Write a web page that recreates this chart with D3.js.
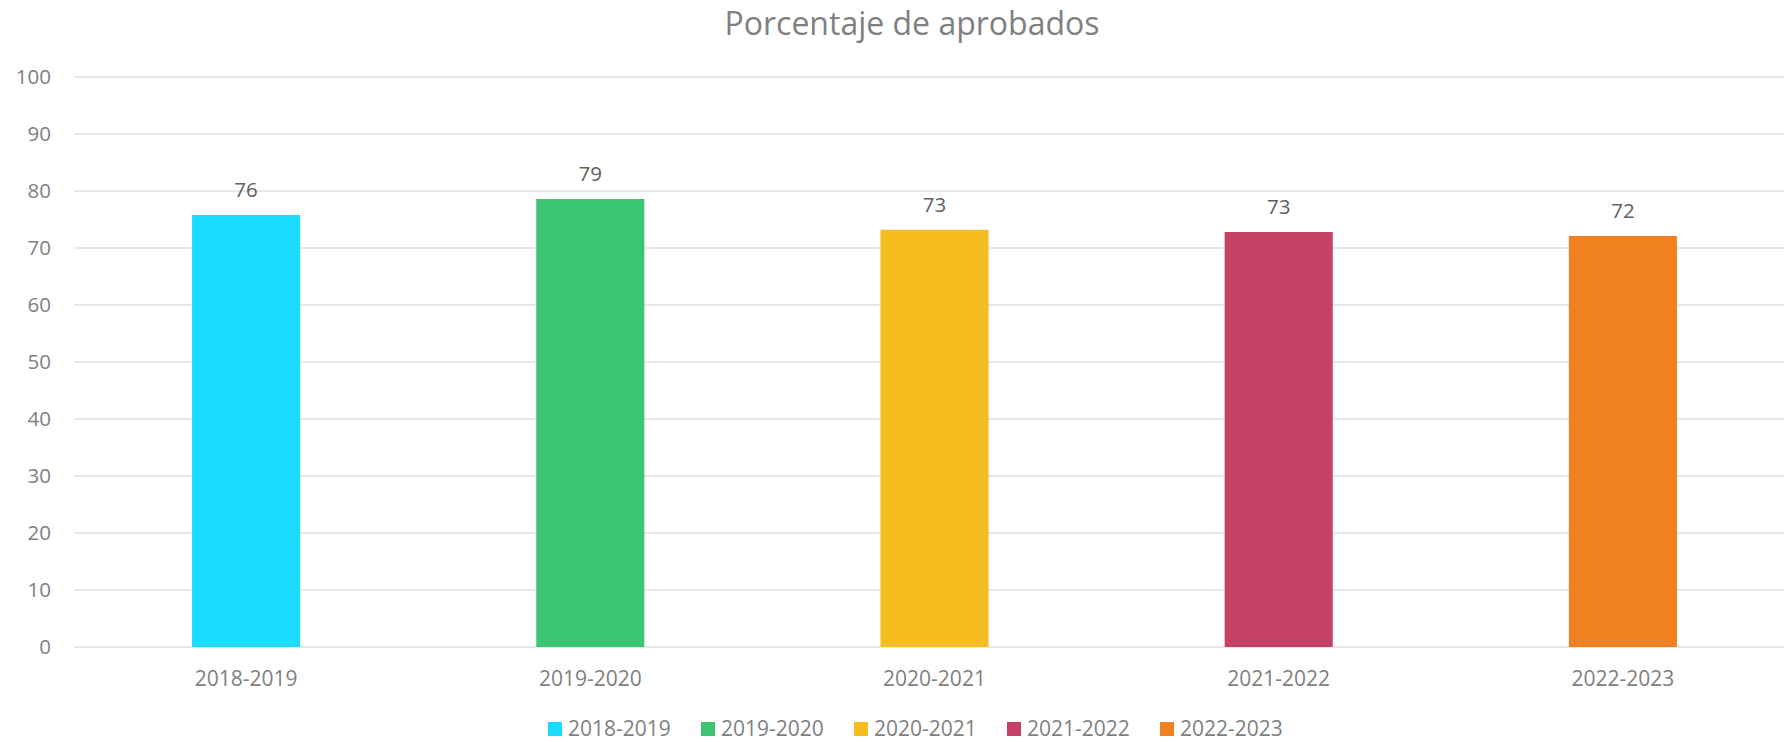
<!DOCTYPE html>
<html>
<head>
<meta charset="utf-8">
<script src="https://cdn.jsdelivr.net/npm/d3@7"></script>
<style>
  html, body { margin: 0; padding: 0; background: #ffffff; }
  svg { display: block; }
  text { font-family: "Open Sans", "Noto Sans", sans-serif; }
</style>
</head>
<body>
<svg id="chart" width="1784" height="742"></svg>
<script>
const title = "Porcentaje de aprobados";
const categories = ["2018-2019", "2019-2020", "2020-2021", "2021-2022", "2022-2023"];
const values = [75.8, 78.6, 73.2, 72.8, 72.1];
const valueLabels = ["76", "79", "73", "73", "72"];
const colors = ["#1bdbff", "#3cc674", "#f5bd1f", "#c74065", "#f08020"];
const yTicks = [0, 10, 20, 30, 40, 50, 60, 70, 80, 90, 100];

const W = 1784, H = 742;
const svg = d3.select("#chart");

const x = d3.scaleBand()
  .domain(categories)
  .range([74, 1795])
  .paddingInner(0.686)
  .paddingOuter(0.343);

const y = d3.scaleLinear().domain([0, 100]).range([647, 77]);

// gridlines
svg.append("g")
  .selectAll("line")
  .data(yTicks)
  .join("line")
  .attr("x1", 74)
  .attr("x2", W)
  .attr("y1", d => y(d))
  .attr("y2", d => y(d))
  .attr("stroke", "#e1e1e1")
  .attr("stroke-width", 1.6);

// y tick labels
svg.append("g")
  .selectAll("text")
  .data(yTicks)
  .join("text")
  .attr("x", 51)
  .attr("y", d => y(d))
  .attr("dy", "0.36em")
  .attr("text-anchor", "end")
  .attr("font-size", 20.5)
  .attr("fill", "#808080")
  .text(d => d);

// bars
svg.append("g")
  .selectAll("rect")
  .data(values)
  .join("rect")
  .attr("x", (d, i) => x(categories[i]))
  .attr("width", x.bandwidth())
  .attr("y", d => y(d))
  .attr("height", d => y(0) - y(d))
  .attr("fill", (d, i) => colors[i]);

// value labels
svg.append("g")
  .selectAll("text")
  .data(values)
  .join("text")
  .attr("x", (d, i) => x(categories[i]) + x.bandwidth() / 2)
  .attr("y", d => y(d) - 18)
  .attr("text-anchor", "middle")
  .attr("font-size", 20.5)
  .attr("fill", "#606060")
  .text((d, i) => valueLabels[i]);

// x labels
svg.append("g")
  .selectAll("text")
  .data(categories)
  .join("text")
  .attr("x", d => x(d) + x.bandwidth() / 2)
  .attr("y", 686)
  .attr("text-anchor", "middle")
  .attr("font-size", 21)
  .attr("fill", "#808080")
  .text(d => d);

// title
svg.append("text")
  .attr("x", 912)
  .attr("y", 35)
  .attr("text-anchor", "middle")
  .attr("font-size", 32)
  .attr("fill", "#808080")
  .text(title);

// legend
const legend = svg.append("g").attr("transform", "translate(548,0)");
const item = legend.selectAll("g")
  .data(categories)
  .join("g")
  .attr("transform", (d, i) => `translate(${i * 153},0)`);
item.append("rect")
  .attr("x", 0)
  .attr("y", 722)
  .attr("width", 14)
  .attr("height", 14)
  .attr("fill", (d, i) => colors[i]);
item.append("text")
  .attr("x", 20)
  .attr("y", 736)
  .attr("font-size", 21)
  .attr("fill", "#808080")
  .text(d => d);
</script>
</body>
</html>
